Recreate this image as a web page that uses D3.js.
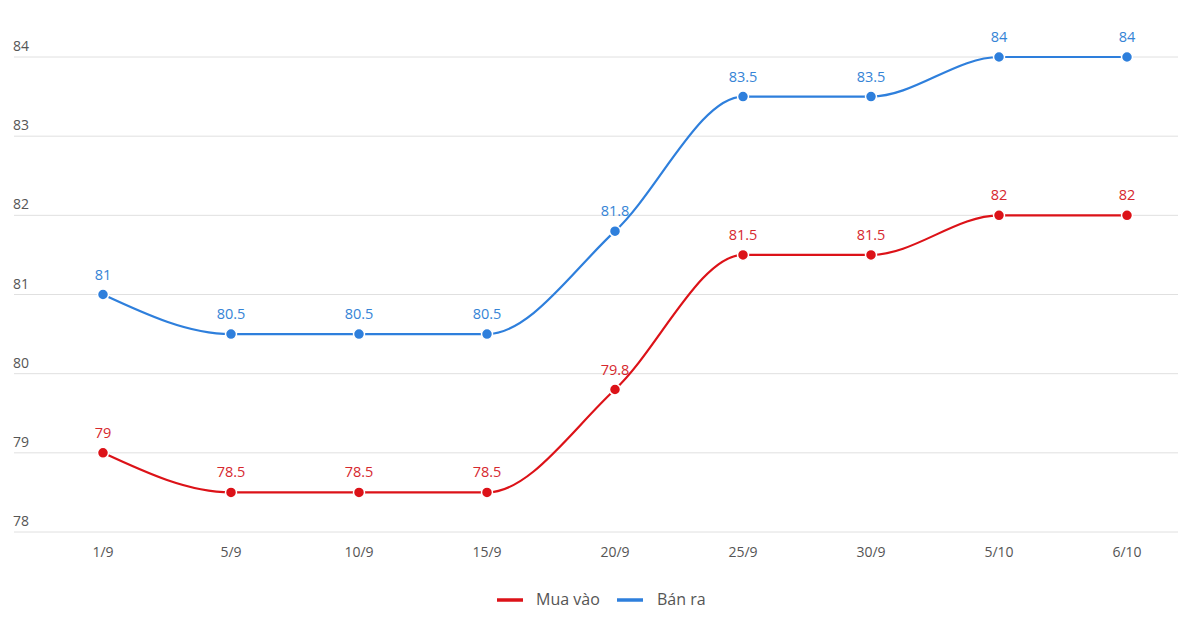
<!DOCTYPE html>
<html><head><meta charset="utf-8">
<script src="https://cdn.jsdelivr.net/npm/d3@7"></script>
<style>body{margin:0;background:#fff;}svg{display:block;font-family:"Open Sans",Roboto,sans-serif;}</style>
</head><body><svg id="c" width="1178" height="622"></svg>
<script>
const categories = ["1/9","5/9","10/9","15/9","20/9","25/9","30/9","5/10","6/10"];
const muaVao = [79,78.5,78.5,78.5,79.8,81.5,81.5,82,82];
const banRa = [81,80.5,80.5,80.5,81.8,83.5,83.5,84,84];
const yTicks = [78,79,80,81,82,83,84];
const seriesNames = ["Mua vào","Bán ra"];
const lineColors = ["#dc1218","#2e7fdc"];
const labelColors = ["#d6282e","#3584d6"];

const svg = d3.select("#c");
const x = d3.scalePoint().domain(categories).range([103,1127]);
const y = d3.scaleLinear().domain([78,84]).range([532,57]);

const g = svg.append("g");
g.selectAll("line.grid").data(yTicks).join("line")
  .attr("x1",14).attr("x2",1178).attr("y1",d=>y(d)).attr("y2",d=>y(d))
  .attr("stroke","#e0e0e0").attr("stroke-width",1);
g.selectAll("text.yl").data(yTicks).join("text")
  .attr("x",13).attr("y",d=>y(d)-6).attr("fill","#555").attr("font-size",14)
  .text(d=>d);
g.selectAll("text.xl").data(categories).join("text")
  .attr("x",d=>x(d)).attr("y",557).attr("text-anchor","middle").attr("fill","#555").attr("font-size",14)
  .text(d=>d);

const line = d3.line().x((d,i)=>x(categories[i])).y(d=>y(d)).curve(d3.curveMonotoneX);
[muaVao,banRa].forEach((s,k)=>{
  svg.append("path").attr("d",line(s)).attr("fill","none").attr("stroke",lineColors[k]).attr("stroke-width",2.2);
  svg.selectAll(null).data(s).join("circle")
    .attr("cx",(d,i)=>x(categories[i])).attr("cy",d=>y(d)).attr("r",5.5)
    .attr("fill",lineColors[k]).attr("stroke","#fff").attr("stroke-width",1.5);
  svg.selectAll(null).data(s).join("text")
    .attr("x",(d,i)=>x(categories[i])).attr("y",d=>y(d)-15).attr("text-anchor","middle")
    .attr("fill",labelColors[k]).attr("font-size",14.5).text(d=>d);
});

const leg = [{x:497,tx:536},{x:617,tx:657}];
leg.forEach((l,k)=>{
  svg.append("line").attr("x1",l.x).attr("x2",l.x+26).attr("y1",600).attr("y2",600)
    .attr("stroke",lineColors[k]).attr("stroke-width",3.5);
  svg.append("text").attr("x",l.tx).attr("y",605).attr("fill","#555").attr("font-size",16).text(seriesNames[k]);
});
</script></body></html>
